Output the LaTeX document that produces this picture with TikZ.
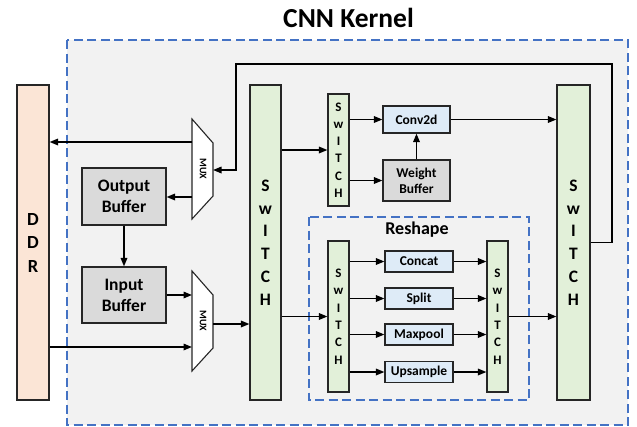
\documentclass[tikz,border=0pt]{standalone}
\usepackage{fontspec}
\setmainfont{Carlito}
\usetikzlibrary{arrows.meta}

\definecolor{kernelbg}{HTML}{F2F2F2}
\definecolor{dashblue}{HTML}{4472C4}
\definecolor{ddrfill}{HTML}{FBE5D6}
\definecolor{swfill}{HTML}{E2F0D9}
\definecolor{opfill}{HTML}{DEEBF7}
\definecolor{buffill}{HTML}{DADADA}
\definecolor{edge}{HTML}{262626}

\tikzset{
  region/.style={draw=dashblue, line width=1.2pt, dash pattern=on 9pt off 4.5pt},
  block/.style={draw=edge, line width=1.1pt, inner sep=0pt, font=\bfseries, align=center},
  bigsw/.style={block, fill=swfill, minimum width=31pt, minimum height=315pt,
    font={\bfseries\fontsize{17.5}{22.8}\selectfont}},
  smallsw/.style={block, fill=swfill, minimum width=21pt,
    font={\bfseries\fontsize{13}{17.3}\selectfont}},
  bufbox/.style={block, fill=buffill},
  opbox/.style={block, fill=opfill, minimum width=68pt, minimum height=21pt,
    font={\bfseries\fontsize{13.5}{16}\selectfont}},
  muxshape/.style={draw=edge, line width=1.1pt, fill=white},
  muxlabel/.style={font={\bfseries\fontsize{10}{10}\selectfont}, rotate=-90, inner sep=0pt},
  arr/.style={draw=black, line width=1.6pt, -{Triangle[length=8.5pt,width=6.5pt]}},
}

\begin{document}
\begin{tikzpicture}[x=1pt, y=-1pt]
\useasboundingbox (0,0) rectangle (637,426);

% kernel region and title
\fill[kernelbg] (67,40) rectangle (628,425);
\draw[region] (67,40) rectangle (628,425);
\node[font={\bfseries\fontsize{27.5}{30}\selectfont}] (title) at (348.5,18) {CNN Kernel};

% external memory
\node[block, fill=ddrfill, minimum width=32pt, minimum height=315pt,
  font={\bfseries\fontsize{18.5}{23.5}\selectfont}] (ddr) at (33,242.5) {D\\D\\R};

% buffers
\node[bufbox, minimum width=84pt, minimum height=57pt,
  font={\bfseries\fontsize{17.5}{21}\selectfont}] (outbuf) at (124,196.5) {Output\\Buffer};
\node[bufbox, minimum width=84pt, minimum height=56pt,
  font={\bfseries\fontsize{17.5}{21}\selectfont}] (inbuf) at (124,295) {Input\\Buffer};

% multiplexers
\draw[muxshape] (192,119) -- (213,143) -- (213,196) -- (192,219) -- cycle;
\node[muxlabel] (muxa) at (203,169) {MUX};
\draw[muxshape] (192,271) -- (213,295) -- (213,348) -- (192,371) -- cycle;
\node[muxlabel] (muxb) at (203,321) {MUX};
\coordinate (muxaToDdr) at (192,142);
\coordinate (muxaToBuf) at (192,197);
\coordinate (muxaIn) at (213,170);
\coordinate (muxbInBuf) at (192,295);
\coordinate (muxbInDdr) at (192,347);
\coordinate (muxbOut) at (213,324);

% switches
\node[bigsw] (mainsw) at (265.5,242.5) {S\\w\\I\\T\\C\\H};
\node[bigsw, minimum width=33pt] (outsw) at (573.5,242.5) {S\\w\\I\\T\\C\\H};
\node[smallsw, minimum height=112pt] (convsw) at (338.5,150) {S\\w\\I\\T\\C\\H};

% convolution path
\node[block, fill=opfill, minimum width=67pt, minimum height=27pt,
  font={\bfseries\fontsize{13.5}{16}\selectfont}] (conv) at (416.5,119.5) {Conv2d};
\node[bufbox, minimum width=67pt, minimum height=41pt,
  font={\bfseries\fontsize{13.5}{16.2}\selectfont}] (wbuf) at (416.5,180.5) {Weight\\Buffer};

% reshape group
\draw[region] (309,217) rectangle (529,400);
\node[font={\bfseries\fontsize{18}{20}\selectfont}] (reshape) at (417,230) {Reshape};
\node[smallsw, minimum height=151pt] (rsin) at (338.5,316.5) {S\\w\\I\\T\\C\\H};
\node[smallsw, minimum height=151pt] (rsout) at (497.5,316.5) {S\\w\\I\\T\\C\\H};
\node[opbox] (concat) at (419,261.5) {Concat};
\node[opbox] (split) at (419,298.5) {Split};
\node[opbox] (maxpool) at (419,334.5) {Maxpool};
\node[opbox] (upsample) at (419,372) {Upsample};

% data movement
\coordinate (loopTop) at (612,64);
\coordinate (loopLeft) at (236,170);
\draw[arr] (muxaToDdr) -- (ddr.east |- muxaToDdr);
\draw[arr] (muxaToBuf) -- (outbuf.east |- muxaToBuf);
\draw[arr] (outsw.east) -| (loopTop) -| (loopLeft) -- (muxaIn);
\draw[arr] (outbuf.south) -- (inbuf.north);
\draw[arr] (inbuf.east |- muxbInBuf) -- (muxbInBuf);
\draw[arr] (ddr.east |- muxbInDdr) -- (muxbInDdr);
\draw[arr] (muxbOut) -- (mainsw.west |- muxbOut);

\draw[arr] (mainsw.east |- convsw.west) -- (convsw.west);
\draw[arr] (convsw.east |- conv.west) -- (conv.west);
\draw[arr] (convsw.east |- wbuf.west) -- (wbuf.west);
\draw[arr] (wbuf.north) -- (conv.south);
\draw[arr] (conv.east) -- (outsw.west |- conv.east);

\draw[arr] (mainsw.east |- rsin.west) -- (rsin.west);
\foreach \op in {concat,split,maxpool,upsample}{
  \draw[arr] (rsin.east |- \op.west) -- (\op.west);
  \draw[arr] (\op.east) -- (rsout.west |- \op.east);
}
\draw[arr] (rsout.east) -- (outsw.west |- rsout.east);
\end{tikzpicture}
\end{document}
